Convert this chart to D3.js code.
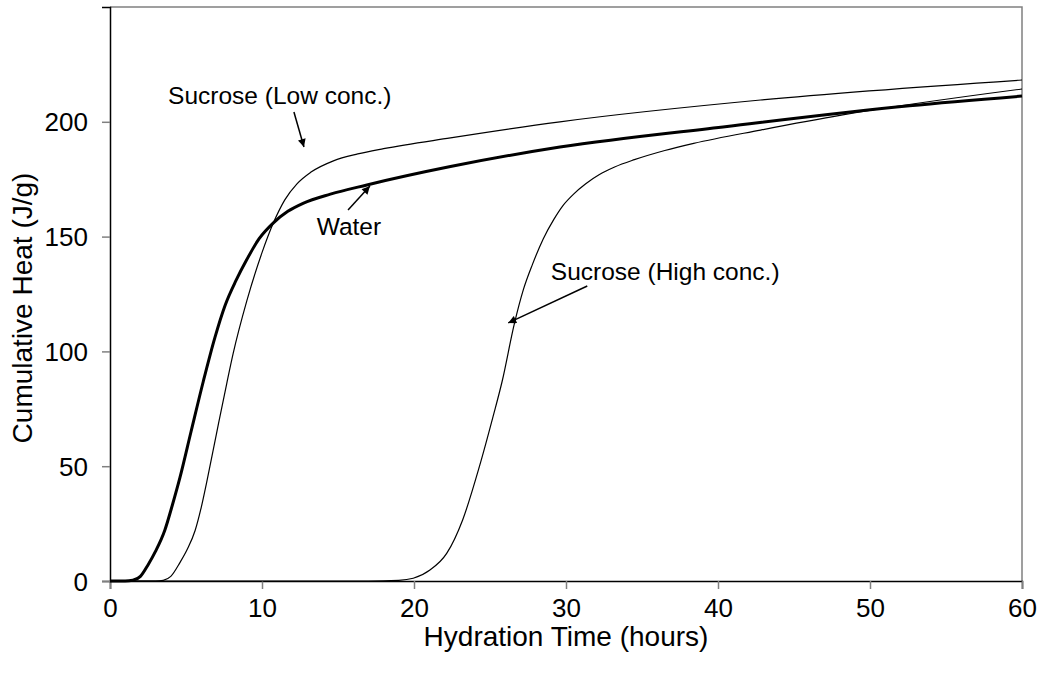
<!DOCTYPE html>
<html>
<head>
<meta charset="utf-8" />
<script src="https://cdn.jsdelivr.net/npm/d3@7"></script>
<style type="text/css">
	body{
		margin: 0;
		background: #fff;
	}
	text{
		font-family: "Liberation Sans", Arial, sans-serif;
		fill: #000;
	}
</style>
</head>
<body>
<div id="chart"></div>

<script type="text/javascript">
	// hours / J per g
	var waterTime = [0, 1.0, 1.5, 2.0, 2.5, 3.0, 3.6, 4.1, 4.6, 5.33, 6.14, 6.9, 7.57, 8.3, 9.0, 9.8, 10.75, 11.7, 12.7, 14.5, 16.9, 22.4, 29.6, 40.6, 52.6, 60];
	var waterHeat = [0, 0, 0.3, 2, 7, 13, 22, 33, 45, 65, 87, 106, 120, 131, 140, 149, 156, 161, 164.5, 168.5, 172.5, 180.5, 189, 198, 207, 211.2];

	var lowTime = [0, 3.0, 3.5, 4.0, 4.6, 5.1, 5.6, 6.0, 6.36, 7.0, 7.68, 8.1, 9.0, 10.0, 10.75, 11.5, 12.3, 13.2, 14.7, 16.3, 18, 22.4, 29.6, 42.8, 60];
	var lowHeat = [0, 0, 0.3, 2, 8, 14, 22, 32, 43, 64, 86, 99, 122, 143, 156, 166, 173, 178, 183, 186, 188.3, 193, 200, 209.5, 218.2];

	var highTime = [0, 17, 19, 19.95, 21.05, 22.15, 23.2, 24.3, 25.2, 25.8, 26.6, 27.2, 27.8, 28.5, 29.2, 29.8, 30.5, 31.3, 32.2, 33.2, 34.5, 36.5, 38.4, 42.8, 48.2, 60];
	var highHeat = [0, 0, 0.3, 1.2, 4.8, 12, 26.6, 49.8, 71.6, 87, 112, 127, 138, 149, 157.5, 163.5, 168.5, 173, 177, 180.3, 183.5, 187.5, 190.6, 196.4, 203, 214.3];

	var xTicks = [0, 10, 20, 30, 40, 50, 60];
	var yTicks = [0, 50, 100, 150, 200];

	// label text, anchor (h, J/g), arrow from -> to (h, J/g)
	var noteText = ["Sucrose (Low conc.)", "Water", "Sucrose (High conc.)"];
	var noteAt = [[3.82, 207.7], [13.6, 150.7], [29.0, 131]];
	var arrowFrom = [[12.1, 204.3], [15.66, 161.6], [31.4, 128.5]];
	var arrowTo = [[12.76, 189], [17.1, 172], [26.2, 112.4]];

	var W = 1043, H = 677;
	var x = d3.scaleLinear().domain([0, 60]).range([110, 1022]);
	var y = d3.scaleLinear().domain([0, 250]).range([581, 7]);

	var svg = d3.select('#chart')
	.append('svg')
	.attr('width', W)
	.attr('height', H);

	svg.append('defs')
	.append('marker')
	.attr('id', 'head')
	.attr('viewBox', '0 0 10 10')
	.attr('refX', 10)
	.attr('refY', 5)
	.attr('markerWidth', 10)
	.attr('markerHeight', 8)
	.attr('markerUnits', 'userSpaceOnUse')
	.attr('orient', 'auto')
	.append('path')
	.attr('d', 'M0,0L10,5L0,10Z')
	.attr('fill', '#000');

	// gray frame on top and right
	svg.append('path')
	.attr('d', 'M' + x(0) + ',' + y(250) + 'H' + x(60) + 'V' + y(0))
	.attr('fill', 'none')
	.attr('stroke', '#808080')
	.attr('stroke-width', 1.5);

	var xAxis = svg.append('g')
	.attr('transform', 'translate(0,' + y(0) + ')')
	.call(d3.axisBottom(x).tickValues(xTicks).tickSize(8).tickPadding(10));

	var yAxis = svg.append('g')
	.attr('transform', 'translate(' + x(0) + ',0)')
	.call(d3.axisLeft(y).tickValues(yTicks).tickSize(8).tickPadding(14));

	[xAxis, yAxis].forEach(function(g){
		g.select('.domain').attr('stroke', '#000').attr('stroke-width', 1.5);
		g.selectAll('.tick line').attr('stroke', '#808080').attr('stroke-width', 1.5);
		g.selectAll('.tick text')
		.style('font-family', '"Liberation Sans", Arial, sans-serif')
		.style('font-size', '26px')
		.attr('fill', '#000');
	});
	yAxis.selectAll('.tick text').attr('dy', '0.35em');

	var line = d3.line()
	.x(function(d){ return x(d[0]); })
	.y(function(d){ return y(d[1]); })
	.curve(d3.curveMonotoneX);

	var series = [
		{t: lowTime, v: lowHeat, w: 1.2},
		{t: highTime, v: highHeat, w: 1.2},
		{t: waterTime, v: waterHeat, w: 3}
	];

	series.forEach(function(s){
		svg.append('path')
		.datum(d3.zip(s.t, s.v))
		.attr('d', line)
		.attr('fill', 'none')
		.attr('stroke', '#000')
		.attr('stroke-width', s.w);
	});

	for(var i=0; i<noteText.length; i++){
		svg.append('text')
		.attr('x', x(noteAt[i][0]))
		.attr('y', y(noteAt[i][1]))
		.style('font-size', '24.5px')
		.text(noteText[i]);

		svg.append('line')
		.attr('x1', x(arrowFrom[i][0]))
		.attr('y1', y(arrowFrom[i][1]))
		.attr('x2', x(arrowTo[i][0]))
		.attr('y2', y(arrowTo[i][1]))
		.attr('stroke', '#000')
		.attr('stroke-width', 1.5)
		.attr('marker-end', 'url(#head)');
	}

	svg.append('text')
	.attr('x', (x(0) + x(60)) / 2)
	.attr('y', 646)
	.attr('text-anchor', 'middle')
	.style('font-size', '28px')
	.text('Hydration Time (hours)');

	svg.append('text')
	.attr('transform', 'translate(32,308) rotate(-90)')
	.attr('text-anchor', 'middle')
	.style('font-size', '28px')
	.text('Cumulative Heat (J/g)');
</script>
</body>
</html>
